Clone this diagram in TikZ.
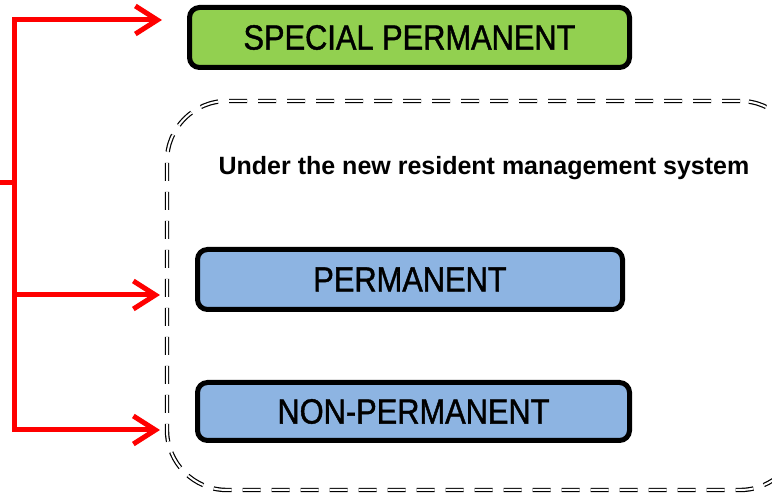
\documentclass[tikz,border=0pt]{standalone}
\usepackage{fontspec}
\setmainfont{Liberation Sans}
\newfontfamily\boxfont[FakeStretch=0.88,FakeBold=1.2]{Liberation Sans}
\usepackage{tikz}
\usetikzlibrary{arrows.meta}
\definecolor{special}{RGB}{146,208,80}
\definecolor{resident}{RGB}{141,180,226}
\tikzstyle{redline} = [line width=5pt, red]
\tikzstyle{arrow} = [redline, -{Straight Barb[length=22pt,width=28pt]}]
\tikzstyle{status} = [
    rectangle, rounded corners=10pt, line width=5pt, draw=black,
    inner sep=0pt, font=\boxfont\fontsize{35}{40}\selectfont]
\tikzstyle{zone} = [
    rectangle, rounded corners=60pt, draw=black, double, double distance=2pt,
    line width=1.2pt, dash pattern=on 18pt off 11pt, inner sep=0pt]

\begin{document}
\begin{tikzpicture}[x=1pt, y=-1pt]
\clip (0,0) rectangle (772,494);

\node (region) [zone, minimum width=633pt, minimum height=389pt] at (483.5,295.5) {};
\node (title) [inner sep=0pt, font=\bfseries\fontsize{25}{30}\selectfont] at (484,168)
    {Under the new resident management system};

\node (special) [status, fill=special, minimum width=440pt, minimum height=60pt]
    at (409.5,37.5) {SPECIAL PERMANENT};
\node (perm) [status, fill=resident, minimum width=425pt, minimum height=60pt]
    at (410,279.5) {PERMANENT};
\node (nonperm) [status, fill=resident, minimum width=432pt, minimum height=58pt]
    at (413.5,411.5) {NON-PERMANENT};

\coordinate (src) at (0,183);
\coordinate (hub) at (14,183);
\coordinate (tip1) at (162,20);
\coordinate (tip2) at (160,295);
\coordinate (tip3) at (160,430);

\draw [redline] (src) -- (hub);
\draw [arrow] (hub) |- (tip1);
\draw [arrow] (hub) |- (tip2);
\draw [arrow] (hub) |- (tip3);
\end{tikzpicture}
\end{document}
